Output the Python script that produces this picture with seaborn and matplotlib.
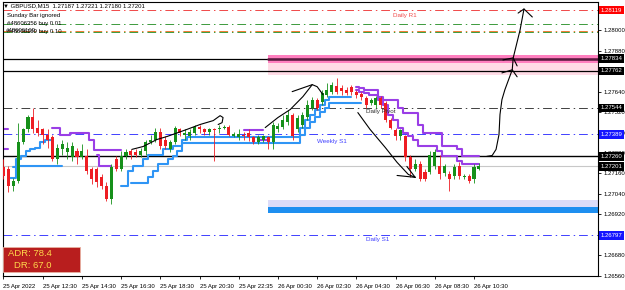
import numpy as np
import pandas as pd
import matplotlib
matplotlib.use("Agg")
import matplotlib.pyplot as plt
import seaborn as sns
from matplotlib.patches import Rectangle
from matplotlib.transforms import blended_transform_factory

sns.set_theme(style="white")
plt.rcParams["font.family"] = ["Liberation Sans", "DejaVu Sans"]

# ---------------- data (GBPUSD M15) ----------------
open_ = [1.27195, 1.27184, 1.27084, 1.27113, 1.27347, 1.27418, 1.27494, 1.27429, 1.27418, 1.27388,
         1.27371, 1.27242, 1.27301, 1.27283, 1.27254, 1.27289, 1.27254, 1.27260, 1.27184, 1.27184,
         1.27137, 1.27084, 1.27008, 1.27242, 1.27184, 1.27260, 1.27289, 1.27283, 1.27271, 1.27289,
         1.27347, 1.27359, 1.27406, 1.27359, 1.27301, 1.27342, 1.27418, 1.27388, 1.27377, 1.27400,
         1.27435, 1.27418, 1.27406, 1.27418, 1.27418, 1.27429, 1.27435, 1.27382, 1.27371, 1.27388,
         1.27400, 1.27371, 1.27347, 1.27359, 1.27371, 1.27342, 1.27418, 1.27435, 1.27464, 1.27505,
         1.27418, 1.27447, 1.27494, 1.27546, 1.27593, 1.27581, 1.27622, 1.27640, 1.27675, 1.27663,
         1.27652, 1.27669, 1.27640, 1.27628, 1.27605, 1.27575, 1.27564, 1.27605, 1.27575, 1.27476,
         1.27412, 1.27377, 1.27377, 1.27254, 1.27184, 1.27213, 1.27166, 1.27166, 1.27201, 1.27201,
         1.27160, 1.27154, 1.27143, 1.27201, 1.27137, 1.27143, 1.27125, 1.27187]
close = [1.27143, 1.27084, 1.27113, 1.27347, 1.27418, 1.27494, 1.27418, 1.27400, 1.27388, 1.27359,
         1.27242, 1.27312, 1.27330, 1.27312, 1.27318, 1.27254, 1.27289, 1.27172, 1.27125, 1.27108,
         1.27084, 1.27008, 1.27195, 1.27184, 1.27260, 1.27283, 1.27271, 1.27271, 1.27289, 1.27347,
         1.27359, 1.27406, 1.27318, 1.27318, 1.27342, 1.27429, 1.27400, 1.27400, 1.27406, 1.27435,
         1.27418, 1.27406, 1.27418, 1.27412, 1.27429, 1.27435, 1.27388, 1.27394, 1.27394, 1.27377,
         1.27371, 1.27347, 1.27371, 1.27377, 1.27342, 1.27447, 1.27441, 1.27476, 1.27505, 1.27377,
         1.27488, 1.27505, 1.27564, 1.27593, 1.27546, 1.27634, 1.27652, 1.27681, 1.27640, 1.27646,
         1.27634, 1.27640, 1.27622, 1.27611, 1.27564, 1.27593, 1.27605, 1.27564, 1.27476, 1.27429,
         1.27377, 1.27412, 1.27254, 1.27184, 1.27213, 1.27125, 1.27125, 1.27271, 1.27283, 1.27154,
         1.27201, 1.27125, 1.27195, 1.27143, 1.27143, 1.27113, 1.27195, 1.27201]
high = [1.27242, 1.27201, 1.27131, 1.27453, 1.27429, 1.27505, 1.27546, 1.27476, 1.27429, 1.27418,
        1.27388, 1.27330, 1.27359, 1.27342, 1.27342, 1.27312, 1.27330, 1.27301, 1.27195, 1.27195,
        1.27154, 1.27108, 1.27213, 1.27260, 1.27289, 1.27301, 1.27301, 1.27301, 1.27312, 1.27359,
        1.27388, 1.27429, 1.27429, 1.27377, 1.27359, 1.27441, 1.27429, 1.27418, 1.27418, 1.27447,
        1.27447, 1.27429, 1.27429, 1.27429, 1.27447, 1.27447, 1.27447, 1.27406, 1.27418, 1.27406,
        1.27418, 1.27382, 1.27388, 1.27388, 1.27382, 1.27464, 1.27453, 1.27505, 1.27535, 1.27517,
        1.27505, 1.27523, 1.27593, 1.27611, 1.27605, 1.27652, 1.27692, 1.27698, 1.27722, 1.27681,
        1.27669, 1.27681, 1.27652, 1.27640, 1.27616, 1.27605, 1.27616, 1.27616, 1.27587, 1.27488,
        1.27429, 1.27423, 1.27388, 1.27271, 1.27242, 1.27230, 1.27184, 1.27289, 1.27301, 1.27271,
        1.27213, 1.27172, 1.27213, 1.27225, 1.27154, 1.27154, 1.27213, 1.27221]
low = [1.27125, 1.27049, 1.27055, 1.27102, 1.27330, 1.27406, 1.27400, 1.27382, 1.27330, 1.27312,
       1.27230, 1.27213, 1.27271, 1.27242, 1.27230, 1.27213, 1.27242, 1.27154, 1.27096, 1.27078,
       1.27067, 1.26996, 1.26979, 1.27172, 1.27172, 1.27242, 1.27242, 1.27254, 1.27254, 1.27271,
       1.27330, 1.27347, 1.27301, 1.27301, 1.27283, 1.27330, 1.27382, 1.27359, 1.27359, 1.27388,
       1.27400, 1.27388, 1.27388, 1.27230, 1.27400, 1.27418, 1.27377, 1.27371, 1.27359, 1.27359,
       1.27353, 1.27330, 1.27330, 1.27342, 1.27301, 1.27301, 1.27406, 1.27418, 1.27447, 1.27359,
       1.27406, 1.27429, 1.27476, 1.27535, 1.27535, 1.27564, 1.27611, 1.27628, 1.27628, 1.27622,
       1.27622, 1.27622, 1.27605, 1.27593, 1.27546, 1.27564, 1.27546, 1.27546, 1.27464, 1.27418,
       1.27359, 1.27359, 1.27230, 1.27137, 1.27172, 1.27113, 1.27113, 1.27154, 1.27184, 1.27125,
       1.27143, 1.27055, 1.27125, 1.27125, 1.27125, 1.27102, 1.27102, 1.27180]

# step indicator lines: (first bar, values)
blue_fast = [(2, [1.27195, 1.27242, 1.27265, 1.27289, 1.27301, 1.27312, 1.27342, 1.27359, 1.27359]),
             (24, [1.27084, 1.27084, 1.27172, 1.27201, 1.27201, 1.27242, 1.27271, 1.27271, 1.27271,
                   1.27301, 1.27301, 1.27318, 1.27318, 1.27359] + [1.27371] * 23 +
                  [1.27429, 1.27476, 1.27505, 1.27535, 1.27564, 1.27593] + [1.27611] * 5)]
blue_slow = [(1, [1.27131, 1.27131] + [1.27201] * 10),
             (26, [1.27102] * 4 + [1.27137, 1.27172, 1.27213, 1.27213, 1.27242, 1.27260, 1.27289] +
                  [1.27336] * 24 + [1.27388, 1.27429, 1.27464, 1.27494, 1.27523, 1.27546] + [1.27575] * 7)]
purple_a = [(0, [1.27418, 1.27418]),
            (10, [1.27429, 1.27429, 1.27388, 1.27388, 1.27400, 1.27400, 1.27400, 1.27400, 1.27359,
                  1.27295, 1.27295, 1.27295, 1.27295, 1.27295, 1.27295]),
            (49, [1.27412] * 5),
            (72, [1.27669, 1.27663, 1.27652, 1.27652, 1.27652, 1.27611, 1.27593, 1.27593, 1.27593,
                  1.27546, 1.27517, 1.27517, 1.27517, 1.27447, 1.27400, 1.27400, 1.27400, 1.27400,
                  1.27318, 1.27318, 1.27318, 1.27301, 1.27260, 1.27260, 1.27260, 1.27260])]
purple_b = [(0, [1.27301, 1.27301]),
            (19, [1.27271, 1.27201, 1.27201, 1.27201]),
            (52, [1.27359] * 3),
            (72, [1.27652, 1.27640, 1.27634, 1.27622, 1.27622, 1.27593, 1.27564, 1.27505, 1.27476,
                  1.27429, 1.27400, 1.27377, 1.27359, 1.27318, 1.27318, 1.27318, 1.27318, 1.27289,
                  1.27260, 1.27260, 1.27260, 1.27230, 1.27213, 1.27213, 1.27213, 1.27213])]

# hand drawn annotations: (bar, price) points
draw_up1_bar = [26.2, 28.5, 31.3, 33.4, 37.4, 40.1, 42.8, 44.2, 44.8, 44.6, 43.8]
draw_up1_px = [1.27301, 1.27318, 1.27359, 1.27377, 1.27418, 1.27447, 1.27470, 1.27499, 1.27488, 1.27458, 1.27447]
draw_up2_bar = [53.4, 56.0, 58.5, 61.1, 63.0, 64.0, 65.2]
draw_up2_px = [1.27429, 1.27488, 1.27535, 1.27611, 1.27681, 1.27669, 1.27622]
draw_up2b_bar = [58.9, 63.0]
draw_up2b_px = [1.27640, 1.27681]
draw_down_bar = [72.3, 74.8, 77.9, 80.3, 82.6, 84.0]
draw_down_px = [1.27517, 1.27418, 1.27312, 1.27225, 1.27154, 1.27137]
draw_down_head = [([80.3, 84.0], [1.27148, 1.27137]), ([82.3, 84.0], [1.27201, 1.27137])]
draw_fut_bar = [98.6, 99.7, 100.5, 101.1, 101.3, 101.7, 102.3, 103.8, 104.0, 105.4, 106.2]
draw_fut_px = [1.27260, 1.27265, 1.27301, 1.27388, 1.27505, 1.27593, 1.27651, 1.27768, 1.27838, 1.28002, 1.28125]
draw_fut_heads = [([101.7, 103.8, 104.8], [1.27750, 1.27768, 1.27727]),
                  ([101.9, 104.0, 104.8], [1.27826, 1.27838, 1.27791]),
                  ([105.0, 106.2, 107.9], [1.28101, 1.28125, 1.28078])]

# levels
daily_r1 = 1.28119
order_levels = [1.28034, 1.27995, 1.27989]
order_colors = ["#3c9a3c", "#f07a30", "#3c9a3c"]
zone_top_dark, zone_top_light = 1.27834, 1.27762
daily_pivot = 1.27544
weekly_s1 = 1.27389
black_level = 1.27260
bid = 1.27201
daily_s1 = 1.26797
pink_zone = (1.27809, 1.27856)
light_pink_zone = (1.27739, 1.27809)
lav_zone = (1.26961, 1.27002)
blue_zone = (1.26926, 1.26961)
zone_start_bar = 54

time_labels = ["25 Apr 2022", "25 Apr 12:30", "25 Apr 14:30", "25 Apr 16:30", "25 Apr 18:30",
               "25 Apr 20:30", "25 Apr 22:35", "26 Apr 00:30", "26 Apr 02:30", "26 Apr 04:30",
               "26 Apr 06:30", "26 Apr 08:30", "26 Apr 10:30"]
price_ticks = [1.28000, 1.27880, 1.27640, 1.27520, 1.27400, 1.27280, 1.27160, 1.27040,
               1.26920, 1.26680, 1.26560]
tag_prices = [1.28119, 1.27834, 1.27762, 1.27544, 1.27389, 1.27260, 1.27201, 1.26797]
tag_colors = ["#ff0000", "#000000", "#000000", "#000000", "#1515ff", "#000000", "#000000", "#1515ff"]

# ---------------- figure ----------------
W, H = 625, 290
fig = plt.figure(figsize=(W / 100, H / 100), dpi=100)
fig.patch.set_facecolor("white")
ax = fig.add_axes([2.5 / W, 1 - 276 / H, (598 - 2.5) / W, (276 - 2) / H])
ax.set_facecolor("white")
ax.set_xlim(-0.2, 121.3)
ax.set_ylim(1.26558, 1.28166)

bars = np.arange(len(open_))
o = np.array(open_); c = np.array(close); hi = np.array(high); lo = np.array(low)
up = c >= o
UPC, DNC = "#16901a", "#ee1d23"

DD = (0, (9, 4, 1.5, 4))
# zones
ax.axhspan(*pink_zone, xmin=(zone_start_bar + 0.2) / 121.5, xmax=1, color="#ff7fbf", lw=0, zorder=0.5)
ax.axhspan(*light_pink_zone, xmin=(zone_start_bar + 0.2) / 121.5, xmax=1, color="#ffdbe6", lw=0, zorder=0.5)
ax.axhspan(*lav_zone, xmin=(zone_start_bar + 0.2) / 121.5, xmax=1, color="#dcdcf8", lw=0, zorder=0.5)
ax.axhspan(*blue_zone, xmin=(zone_start_bar + 0.2) / 121.5, xmax=1, color="#1e8ff0", lw=0, zorder=0.6)

# horizontal levels
ax.axhline(daily_r1, color="#f04848", lw=0.7, ls=DD, zorder=1)
for lv, col in zip(order_levels, order_colors):
    ax.axhline(lv, color=col, lw=0.7, ls=DD, zorder=1)
ax.axhline(zone_top_dark, color="#000000", lw=0.9, zorder=1)
ax.axhline(zone_top_dark, xmin=(zone_start_bar + 0.2) / 121.5, color="#5a1a40", lw=1.8, zorder=1.1)
ax.axhline(zone_top_light, color="#000000", lw=0.9, zorder=1)
ax.axhline(daily_pivot, color="#404040", lw=0.7, ls=DD, zorder=1)
ax.axhline(weekly_s1, color="#4040ff", lw=0.7, ls=DD, zorder=1)
ax.axhline(black_level, color="#000000", lw=1.0, zorder=1)
ax.axhline(bid, color="#c8c8c8", lw=0.8, zorder=1)
ax.axhline(daily_s1, color="#4040ff", lw=0.7, ls=DD, zorder=1)

# indicator lines
def seg_frame(segments):
    rows = []
    for k, (start, vals) in enumerate(segments):
        for j, v in enumerate(vals):
            rows.append((start + j, v, k))
    return pd.DataFrame(rows, columns=["bar", "price", "seg"])

for segs, col in [(blue_slow, "#2f95f5"), (blue_fast, "#2f95f5"),
                  (purple_b, "#9a3ee6"), (purple_a, "#9a3ee6")]:
    sns.lineplot(data=seg_frame(segs), x="bar", y="price", units="seg", estimator=None,
                 drawstyle="steps-mid", color=col, lw=1.5, ax=ax, legend=False, zorder=2)

# candles
ax.vlines(bars, lo, hi, colors=np.where(up, UPC, DNC), lw=0.6, zorder=3)
body_h = np.maximum(np.abs(c - o), 0.000012)
ax.bar(bars, body_h, bottom=np.minimum(o, c), width=0.62,
       color=np.where(up, UPC, DNC), linewidth=0, zorder=4)

# hand drawn
for xs, ys in [(draw_up1_bar, draw_up1_px), (draw_up2_bar, draw_up2_px), (draw_up2b_bar, draw_up2b_px),
               (draw_down_bar, draw_down_px), (draw_fut_bar, draw_fut_px)] + draw_down_head + draw_fut_heads:
    sns.lineplot(x=xs, y=ys, sort=False, estimator=None, color="black", lw=0.8, ax=ax, zorder=5)

# level labels
ax.text(79.5, 1.28084, "Daily R1", fontsize=4.5, color="#f04848", va="center", zorder=6)
ax.text(74.0, 1.27523, "Daily Pivot", fontsize=4.5, color="#303030", va="center", zorder=6)
ax.text(64.0, 1.27347, "Weekly S1", fontsize=4.5, color="#4040ff", va="center", zorder=6)
ax.text(74.0, 1.26774, "Daily S1", fontsize=4.5, color="#4040ff", va="center", zorder=6)

# axes styling
for s in ax.spines.values():
    s.set_color("black"); s.set_linewidth(0.8)
ax.set_xlabel(""); ax.set_ylabel("")
ax.set_xticks(np.arange(0, 8 * len(time_labels), 8))
ax.set_xticklabels(time_labels, ha="left")
ax.yaxis.tick_right()
ax.set_yticks(price_ticks)
ax.set_yticklabels([f"{v:.5f}" for v in price_ticks])
ax.tick_params(axis="both", which="major", direction="out", length=2.5, width=0.6,
               labelsize=4.3, colors="black", pad=1.2, bottom=True, right=True, left=False, top=False)
ax.tick_params(axis="x", pad=3)

tr = blended_transform_factory(ax.transAxes, ax.transData)
for p, col in zip(tag_prices, tag_colors):
    ax.text(1.004, p, f"{p:.5f}", transform=tr, ha="left", va="center", fontsize=4.3,
            color="white", clip_on=False, zorder=10,
            bbox=dict(boxstyle="square,pad=0.3", fc=col, ec="none"))

# top-left texts
def ftext(x, y, s, **kw):
    fig.text(x / W, 1 - y / H, s, va="center", ha="left", **kw)

ftext(3, 6, "\u25BC GBPUSD,M15  1.27187 1.27221 1.27180 1.27201", fontsize=4.3, color="black")
ftext(7, 15, "Sunday Bar ignored", fontsize=4.3, color="black")
ftext(7, 23, "#48606356 buy 0.01", fontsize=4.3, color="black")
ftext(7, 31, "#48606169 buy 0.10", fontsize=4.3, color="black")
ftext(6, 30, "#48606169", fontsize=4.3, color="#202020")

# ADR box
fig.patches.append(Rectangle((3 / W, 1 - 272 / H), 77 / W, 25 / H, transform=fig.transFigure,
                             fc="#b81e1e", ec="#e8b0a0", lw=0.6, zorder=20))
ftext(8, 254, "ADR: 78.4", fontsize=6.8, color="#ffd84a", zorder=21)
ftext(14, 266, "DR: 67.0", fontsize=6.8, color="#ffd84a", zorder=21)

fig.savefig("out.png", dpi=100, facecolor="white")
